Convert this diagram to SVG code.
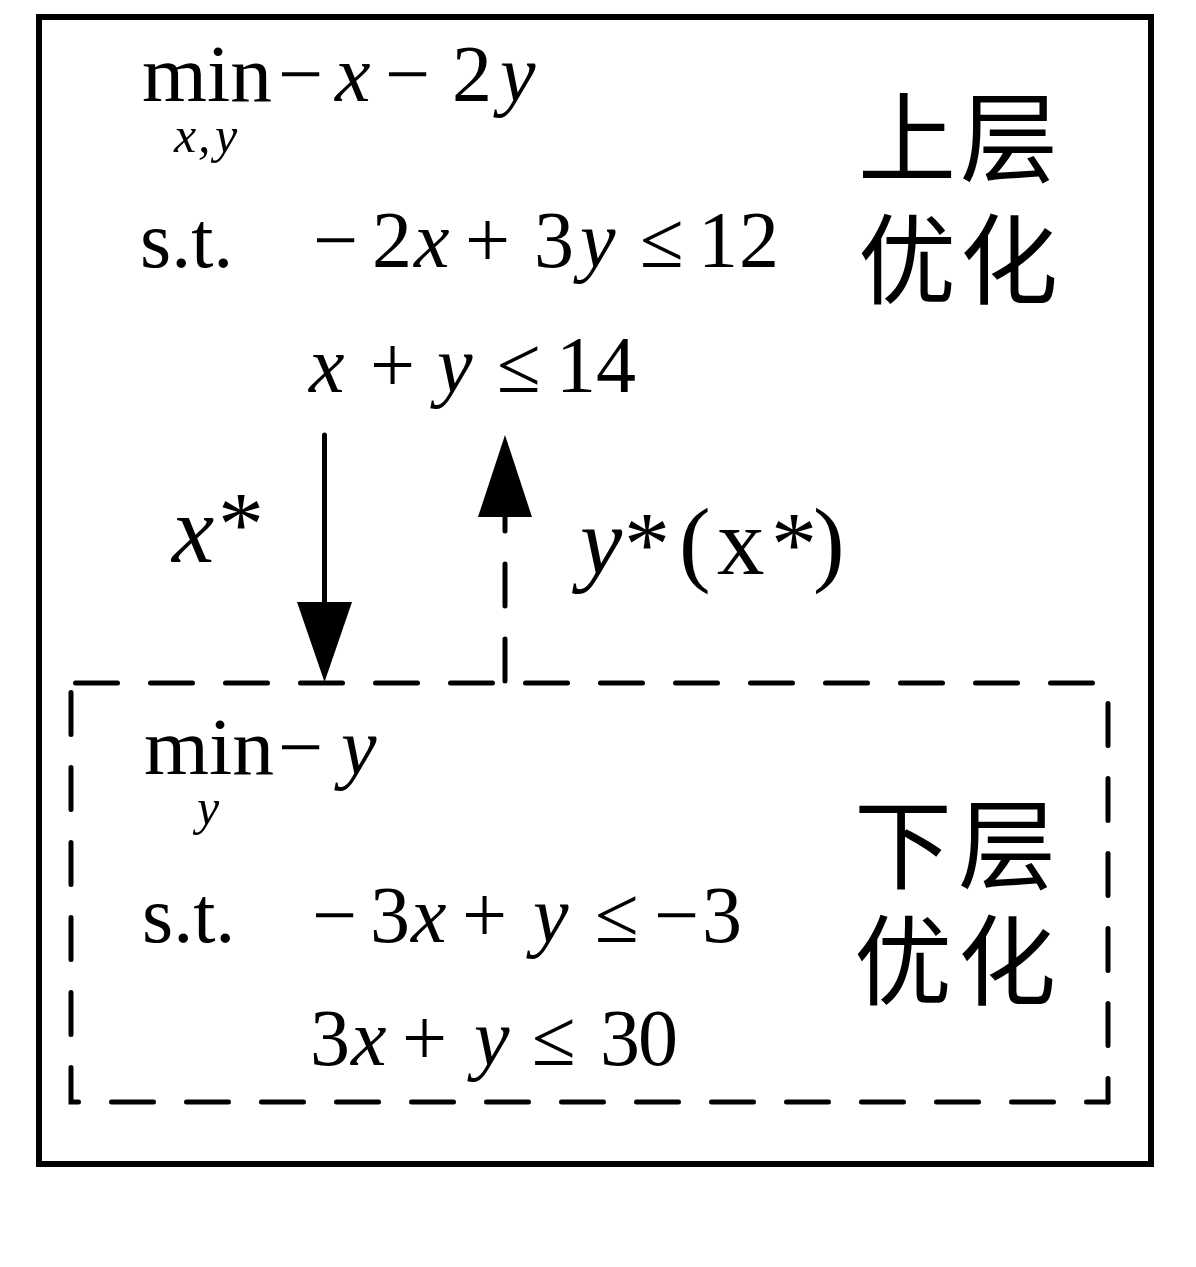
<svg xmlns="http://www.w3.org/2000/svg" width="1196" height="1267" viewBox="0 0 1196 1267">
<style>
.m{font-family:"Liberation Serif","Times New Roman",serif;font-size:80px;fill:#000}
.i{font-style:italic}
.s{font-size:50px}
.lb{font-family:"Liberation Serif","Times New Roman",serif;font-size:95px;fill:#000}
.ast{font-size:92px}
.zh{font-family:"Noto Sans CJK SC","Noto Sans CJK TC",sans-serif;font-size:98px;fill:#000}
.dash{fill:none;stroke:#000;stroke-width:5;stroke-linecap:round;stroke-dasharray:42 33}
.solid{fill:none;stroke:#000;stroke-width:5;stroke-linecap:round}
</style>
<rect width="1196" height="1267" fill="#fff"/>
<g id="upper">
<rect x="39" y="17" width="1112" height="1147" fill="none" stroke="#000" stroke-width="6"/>
<text class="m" x="142" y="101" textLength="130" lengthAdjust="spacingAndGlyphs">min</text>
<text class="m" x="278" y="101">−</text>
<text class="m i" x="335" y="101">x</text>
<text class="m" x="385" y="101">−</text>
<text class="m" x="452" y="101">2</text>
<text class="m i" x="500" y="101">y</text>
<text class="m i s" y="152"><tspan x="174">x</tspan><tspan x="198">,</tspan><tspan x="215">y</tspan></text>
<text class="m" x="140" y="267">s.t.</text>
<text class="m" y="267"><tspan x="313">−</tspan><tspan x="372">2</tspan><tspan x="414" class="i">x</tspan><tspan x="465">+</tspan><tspan x="534">3</tspan><tspan x="580" class="i">y</tspan><tspan x="640">≤</tspan><tspan x="698">1</tspan><tspan x="739">2</tspan></text>
<text class="m" y="392"><tspan x="309" class="i">x</tspan><tspan x="370">+</tspan><tspan x="437" class="i">y</tspan><tspan x="497">≤</tspan><tspan x="556">1</tspan><tspan x="596">4</tspan></text>
<text class="zh" y="174"><tspan x="858">上</tspan><tspan x="960">层</tspan></text>
<text class="zh" y="296"><tspan x="858">优</tspan><tspan x="960">化</tspan></text>
</g>
<g id="lower">
<path class="dash" d="M75.5,683 H1100"/>
<path class="dash" d="M1108,703.5 V1102"/>
<path class="dash" d="M71,692.5 V1102 H1108"/>
<text class="m" x="144" y="774" textLength="130" lengthAdjust="spacingAndGlyphs">min</text>
<text class="m" x="278" y="774">−</text>
<text class="m i" x="341" y="774">y</text>
<text class="m i s" x="197" y="824">y</text>
<text class="m" x="142" y="942">s.t.</text>
<text class="m" y="942"><tspan x="312">−</tspan><tspan x="370">3</tspan><tspan x="411" class="i">x</tspan><tspan x="462">+</tspan><tspan x="533" class="i">y</tspan><tspan x="595">≤</tspan><tspan x="654">−</tspan><tspan x="702">3</tspan></text>
<text class="m" y="1065"><tspan x="310">3</tspan><tspan x="351" class="i">x</tspan><tspan x="402">+</tspan><tspan x="474" class="i">y</tspan><tspan x="532">≤</tspan><tspan x="600">3</tspan><tspan x="638">0</tspan></text>
<text class="zh" y="881"><tspan x="854">下</tspan><tspan x="958">层</tspan></text>
<text class="zh" y="997"><tspan x="854">优</tspan><tspan x="958">化</tspan></text>
</g>
<g id="connectors">
<line class="solid" x1="324.5" y1="435" x2="324.5" y2="604"/>
<polygon points="297,602 352,602 324.5,682" fill="#000"/>
<path class="dash" d="M505,681 V517"/>
<polygon points="478,517 532,517 505,435" fill="#000"/>
</g>
<g id="labels">
<text class="lb i" x="172" y="562">x</text>
<text class="lb ast" x="218" y="555">*</text>
<text class="lb" y="574"><tspan x="580" class="i">y</tspan><tspan x="679">(</tspan><tspan x="717">x</tspan><tspan x="813">)</tspan></text>
<text class="lb ast" y="575"><tspan x="624">*</tspan><tspan x="771">*</tspan></text>
</g>
</svg>
